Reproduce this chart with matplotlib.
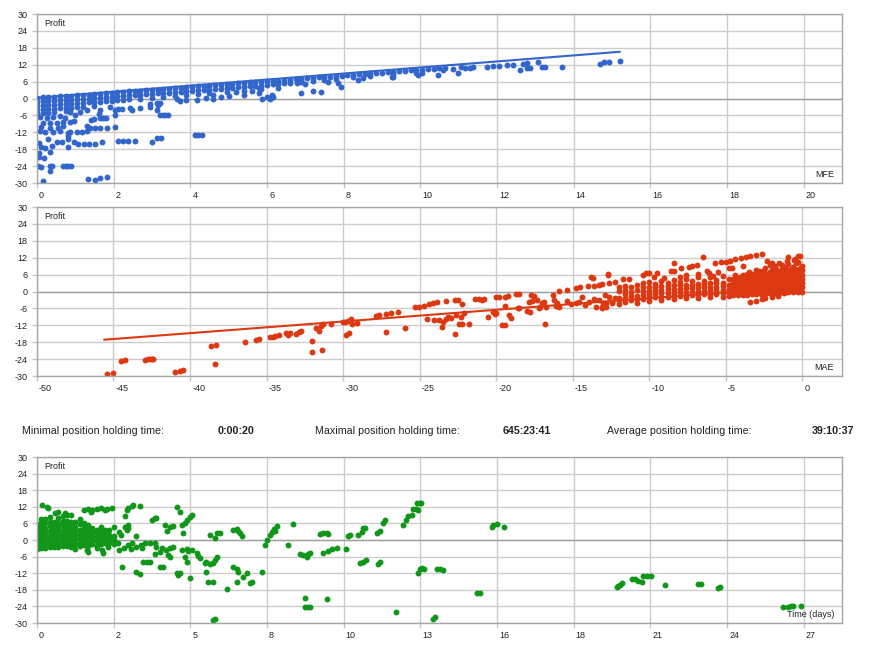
import matplotlib
matplotlib.use('Agg')
import matplotlib.pyplot as plt
import matplotlib.transforms as mtransforms

# ---- MFE panel: profit vs maximal favourable excursion ----
mfe_band_x = [0.0, 0.15, 0.3, 0.45, 0.6, 0.75, 0.9, 1.05, 1.2, 1.35, 1.5, 1.65, 1.8, 1.95,
              2.1, 2.25, 2.4, 2.55, 2.7, 2.85, 3.0, 3.15, 3.3, 3.45, 3.6, 3.75, 3.9, 4.05,
              4.2, 4.35, 4.5, 4.65, 4.8, 4.95, 5.1, 5.25, 5.4, 5.55, 5.7, 5.85, 6.0, 6.15,
              6.3, 6.45, 6.6, 6.75, 6.9, 7.05, 7.2, 7.35, 7.5, 7.65, 7.8, 7.95, 8.1, 8.25,
              8.4, 8.55, 8.7, 8.85, 9.0, 9.15, 9.3, 9.45, 9.6, 9.75, 9.9, 10.05, 10.2, 10.35,
              10.5, 10.65]
mfe_band_y = [
    [0.3, -1.1, -2.5, -3.9, -5.3], [0.4, -1.0, -2.4, -3.8, -5.0], [0.5, -0.9, -2.3, -3.7, -5.2],
    [0.6, -0.8, -2.2, -3.6, -4.8], [0.8, -0.6, -2.0, -3.4], [0.9, -0.5, -1.9, -3.3, -4.5],
    [1.0, -0.4, -1.8, -3.2], [1.2, -0.2, -1.6, -3.0], [1.3, -0.1, -1.5, -2.9],
    [1.4, 0.0, -1.4], [1.6, 0.2, -1.2, -2.6], [1.7, 0.3, -1.1], [1.9, 0.5, -0.9],
    [2.0, 0.6, -0.8], [2.2, 0.8, -0.6], [2.3, 0.9, -0.5], [2.5, 1.1, -0.3], [2.6, 1.2],
    [2.8, 1.4, 0.0], [2.9, 1.5], [3.1, 1.7, 0.3], [3.2, 1.8], [3.4, 2.0, 0.6], [3.5, 2.1],
    [3.7, 2.3, 0.9], [3.8, 2.4], [4.0, 2.6, 1.2], [4.1, 2.7], [4.3, 2.9, 1.5], [4.4, 3.0],
    [4.6, 3.2, 1.8], [4.7, 3.3], [4.9, 3.5], [5.1, 3.7, 2.3], [5.2, 3.8], [5.4, 4.0],
    [5.5, 4.1, 2.8], [5.7, 4.3], [5.8, 4.5], [6.0, 4.6, 3.3], [6.1, 4.8], [6.3, 5.0],
    [6.4, 5.1], [6.6, 5.4], [6.7, 5.5], [6.9], [7.0, 5.9], [7.2], [7.3, 6.2], [7.5],
    [7.6, 6.6], [7.8], [8.0, 6.9], [8.1], [8.3], [8.4, 7.5], [8.6], [8.7], [8.9, 8.0],
    [9.0], [9.2], [9.3], [9.5, 8.6], [9.6], [9.8], [10.0], [10.1, 9.2], [10.3], [10.4],
    [10.6], [10.7], [10.8],
]
mfe_loss_pts = [
    (0.17, -29.2), (1.34, -28.6), (1.51, -28.9), (1.64, -28.1), (1.82, -27.8),
    (0.03, -23.8), (0.1, -24.2), (0.33, -23.8), (0.38, -24.0), (0.35, -25.6), (0.69, -23.9),
    (0.75, -23.9), (0.81, -23.9), (0.88, -23.9), (0.18, -21.1), (0.34, -18.9), (0.05, -19.5),
    (0.05, -20.6), (0.1, -17.3), (0.2, -17.6), (0.39, -16.7), (0.06, -15.7), (0.53, -15.3),
    (0.82, -17.1), (0.97, -15.3), (0.8, -14.3), (0.82, -13.4), (0.29, -14.4), (0.66, -15.3),
    (1.08, -16.1), (1.23, -16.1), (1.37, -16.0), (1.51, -16.0), (1.7, -15.3),
    (2.12, -15.0), (2.25, -15.0), (2.38, -15.0), (2.56, -15.0), (2.99, -15.3), (3.12, -13.9),
    (3.23, -13.9), (4.12, -13.0), (4.21, -12.8), (4.3, -12.8),
    (1.05, -11.8), (1.17, -11.8), (1.31, -11.6), (0.82, -12.4), (0.08, -11.5), (0.2, -11.9),
    (0.43, -12.0), (0.6, -11.4), (0.86, -11.8), (1.38, -10.4), (1.51, -10.4), (1.64, -10.4),
    (1.82, -10.4), (2.03, -10.0), (0.34, -10.6), (0.56, -10.6), (0.1, -10.0), (1.3, -9.6),
    (0.68, -9.6), (0.86, -8.2), (0.97, -8.0), (0.17, -8.7), (0.34, -8.7), (0.51, -8.7),
    (0.69, -8.5), (1.4, -7.6), (1.5, -7.4), (1.64, -7.0), (1.73, -7.0), (1.8, -7.0),
    (0.73, -7.0), (0.08, -6.6), (0.25, -6.8), (0.43, -6.6), (0.6, -6.2), (1.0, -6.0),
    (2.03, -5.9), (3.21, -5.9), (3.3, -5.9), (3.43, -5.9), (1.63, -5.5), (3.34, -5.9),
    (1.3, -4.1), (1.64, -4.1), (2.03, -4.1), (2.21, -3.6), (2.47, -3.9), (2.69, -3.3),
    (2.95, -2.9), (3.17, -2.3), (3.12, -4.1), (2.12, -3.8), (2.43, -3.5), (0.86, -4.7),
    (1.12, -4.7), (1.9, -3.0), (2.95, -2.0), (3.12, -1.5), (3.21, -1.5), (3.73, -1.0),
    (3.9, -0.5), (4.17, -0.5), (4.6, 0.0), (3.64, 0.0), (4.4, 0.2), (5.0, 1.0), (4.6, 1.2),
    (4.8, 0.5), (5.2, 2.2), (5.4, 1.4), (5.6, 2.5),
]
mfe_high_pts = [
    (5.86, 0.0), (6.08, 0.0), (6.17, 0.4), (5.8, 1.8), (6.0, 0.7), (6.12, 1.4), (6.9, 1.8),
    (7.19, 2.8), (7.4, 2.4), (7.92, 4.2), (6.78, 5.4), (5.8, 3.6), (6.3, 3.8), (7.0, 5.2),
    (6.9, 6.4), (7.6, 6.0), (7.85, 5.6), (8.38, 6.6), (8.5, 7.2), (9.25, 7.8), (9.3, 7.5),
    (9.95, 8.3), (10.47, 8.3), (10.05, 9.0), (10.6, 10.3), (10.86, 10.6), (10.97, 9.2),
    (11.05, 11.1), (11.17, 10.9), (11.3, 10.9), (11.38, 11.3), (11.75, 11.3), (11.9, 11.6),
    (12.05, 11.6), (12.25, 11.9), (12.41, 11.9), (12.6, 10.1), (12.67, 12.3), (12.79, 12.5),
    (12.79, 11.0), (12.86, 11.0), (13.08, 12.8), (13.17, 11.3), (13.25, 11.3), (13.69, 11.3),
    (14.69, 12.3), (14.8, 13.1), (14.93, 13.1), (15.21, 13.5),
]
mfe_trend_x = [0.0, 15.2]
mfe_trend_y = [0.3, 16.6]

# ---- MAE panel: profit vs maximal adverse excursion ----
mae_block_x = [-4.5, -4.2, -3.9, -3.6, -3.3, -3.0, -2.7, -2.4, -2.1, -1.8, -1.5, -1.2,
               -0.9, -0.6, -0.3, 0.0]
mae_block_y = [
    [-1.4, 0.1, 1.6, 3.0, 4.4], [-1.3, 0.2, 1.7, 3.2, 4.6], [-1.2, 0.3, 1.8, 3.3, 4.8, 6.0],
    [-1.1, 0.4, 1.9, 3.4, 4.9, 6.3], [-1.0, 0.5, 2.0, 3.5, 5.0, 6.4],
    [-0.9, 0.6, 2.1, 3.6, 5.1, 6.5, 7.8], [-0.9, 0.6, 2.1, 3.6, 5.1, 6.6],
    [-0.8, 0.7, 2.2, 3.7, 5.2, 6.7, 8.3], [-0.7, 0.8, 2.3, 3.8, 5.3, 6.8, 9.5],
    [-0.6, 0.9, 2.4, 3.9, 5.4, 6.9, 8.4], [-0.5, 1.0, 2.5, 4.0, 5.5, 7.0, 10.0],
    [-0.4, 1.1, 2.6, 4.1, 5.6, 7.1, 8.6], [-0.3, 1.2, 2.7, 4.2, 5.7, 7.2, 9.8],
    [-0.2, 1.3, 2.8, 4.3, 5.8, 7.3, 8.8], [-0.1, 1.4, 2.9, 4.4, 5.9, 7.4, 10.5],
    [0.0, 1.5, 3.0, 4.5, 6.0, 7.5, 9.0],
]
mae_fill_x = [-4.35, -4.05, -3.75, -3.45, -3.15, -2.85, -2.55, -2.25, -1.95, -1.65, -1.35,
              -1.05, -0.75, -0.45, -0.15]
mae_fill_y = [
    [-0.6, 0.9, 2.4, 3.8], [-0.5, 1.0, 2.5, 3.9, 5.2], [-0.4, 1.1, 2.6, 4.0, 5.5],
    [-0.3, 1.2, 2.7, 4.1, 5.6, 7.0], [-0.2, 1.2, 2.7, 4.2, 5.7], [-0.2, 1.3, 2.8, 4.3, 5.8, 7.2],
    [-0.1, 1.4, 2.9, 4.4, 5.9, 7.3], [0.0, 1.5, 3.0, 4.5, 6.0], [0.0, 1.5, 3.0, 4.6, 6.1, 7.6],
    [0.1, 1.6, 3.1, 4.7, 6.2, 7.7], [0.2, 1.7, 3.2, 4.7, 6.3, 7.8, 9.2],
    [0.3, 1.8, 3.3, 4.8, 6.4, 7.9], [0.4, 1.9, 3.4, 4.9, 6.5, 8.0],
    [0.5, 2.0, 3.5, 5.0, 6.6, 8.1, 11.6], [0.6, 2.1, 3.6, 5.1, 6.7, 8.2],
]
mae_slope_x = [-12.0, -11.6, -11.2, -10.8, -10.4, -10.0, -9.6, -9.2, -8.8, -8.4, -8.0,
               -7.6, -7.2, -6.8, -6.4, -6.0, -5.6, -5.2, -4.8]
mae_slope_y = [
    [-4.6, -3.0, -2.2, 0.2, 1.5], [-3.8, -2.2, -1.0, 0.6, 2.0], [-3.0, -1.6, -0.2, 1.7],
    [-4.0, -2.8, -1.5, 0.4, 2.3], [-2.5, -1.2, 0.3, 1.6, 2.9], [-3.2, -2.0, -1.0, 0.3, 1.5, 3.4],
    [-2.0, -0.8, 0.5, 1.5, 2.6], [-3.0, -1.8, -0.6, 0.6, 1.8, 3.6], [-1.8, -0.5, 0.8, 2.0, 3.0],
    [-2.6, -1.4, -0.2, 1.0, 2.2, 4.2], [-1.5, -0.2, 1.0, 2.2, 3.4], [-2.4, -1.2, 0.0, 1.2, 2.4, 4.6],
    [-1.2, 0.0, 1.2, 2.4, 3.6], [-2.2, -1.0, 0.3, 1.5, 2.6, 5.0], [-1.0, 0.2, 1.5, 2.7, 3.8],
    [-2.0, -0.8, 0.5, 1.7, 2.9, 5.2], [-0.8, 0.4, 1.7, 2.9, 4.0], [-1.8, -0.6, 0.6, 1.8, 3.0, 5.5],
    [-1.6, -0.4, 0.9, 2.4, 4.3],
]
mae_far_pts = [
    (-45.41, -29.2), (-45.02, -28.8), (-44.54, -24.7), (-44.26, -24.2), (-42.91, -24.3),
    (-42.75, -24.1), (-42.63, -24.0), (-42.5, -23.9), (-42.41, -23.8), (-40.96, -28.5),
    (-40.63, -28.1), (-40.46, -27.8), (-38.6, -19.4), (-38.3, -19.0), (-38.39, -25.7),
    (-36.39, -17.8), (-35.72, -17.2), (-35.5, -16.7), (-34.76, -16.0), (-34.6, -16.0),
    (-34.48, -15.8), (-34.2, -15.4), (-33.76, -14.9), (-33.6, -15.4), (-33.5, -14.9),
    (-33.1, -15.2), (-32.74, -14.0), (-32.9, -14.2), (-32.04, -17.5), (-32.04, -21.5),
    (-31.76, -13.1), (-31.59, -13.9), (-31.43, -12.2), (-31.33, -11.7), (-31.37, -20.7),
    (-30.78, -11.5), (-30.02, -10.9), (-29.85, -10.7), (-29.7, -10.4), (-29.48, -9.9),
    (-29.8, -15.3), (-29.59, -14.9), (-29.41, -11.5), (-29.11, -11.3), (-27.85, -8.7),
    (-27.63, -8.3), (-27.2, -8.0), (-26.87, -7.5), (-26.43, -7.2), (-27.2, -14.3),
    (-25.96, -12.8), (-25.28, -5.4), (-25.07, -5.4), (-24.7, -5.0), (-24.37, -4.6),
    (-24.15, -4.2), (-23.83, -3.8), (-23.28, -3.3), (-24.5, -9.9), (-24.04, -10.1),
    (-23.7, -10.1), (-23.5, -10.7), (-23.3, -9.7), (-22.96, -9.5), (-23.54, -12.5),
    (-23.17, -9.2),
]
mae_mid_pts = [
    (-22.7, -3.0), (-22.5, -3.0), (-22.2, -4.4), (-22.6, -8.3), (-22.3, -8.9), (-22.08, -7.8),
    (-22.4, -11.7), (-22.2, -11.7), (-21.75, -11.4), (-22.67, -15.2), (-21.36, -2.8),
    (-21.1, -2.8), (-20.8, -2.8), (-20.9, -3.0), (-20.56, -8.9), (-20.2, -7.2), (-20.0, -7.7),
    (-20.1, -8.0), (-20.0, -2.1), (-19.84, -1.8), (-19.6, -11.9), (-19.4, -11.9),
    (-19.4, -1.8), (-19.25, -1.5), (-19.15, -8.3), (-19.0, -9.5), (-18.7, -0.9), (-18.5, -0.9),
    (-19.4, -5.1), (-18.6, -6.0), (-18.5, -5.7), (-17.95, -6.8), (-17.8, -7.2), (-17.84, -3.6),
    (-17.67, -3.4), (-17.7, -1.2), (-17.5, -1.6), (-17.36, -3.0), (-17.2, -6.0), (-17.1, -5.6),
    (-16.9, -3.6), (-16.98, -4.2), (-16.76, -5.4), (-16.8, -11.5), (-16.3, -1.2), (-16.2, -3.0),
    (-16.1, -5.1), (-16.0, -4.2), (-15.9, -5.4), (-15.9, 0.3), (-15.35, 0.7), (-15.35, -3.4),
    (-15.1, -4.4), (-14.8, -4.2), (-14.6, -3.6), (-14.4, -2.1), (-14.8, 1.1), (-14.5, 1.5),
    (-14.0, 2.0), (-13.6, 2.1), (-13.3, 2.3), (-13.07, 2.5), (-12.63, 2.9), (-12.2, 3.4),
    (-13.8, 5.0), (-13.7, 4.7), (-13.5, -5.6), (-13.06, -5.6), (-13.6, -2.8), (-13.3, -3.0),
    (-12.7, 6.0), (-12.6, -1.8), (-12.4, -3.6), (-12.2, -2.4), (-14.2, -4.8), (-13.9, -3.8),
    (-13.0, -4.0), (-12.8, -5.4), (-12.9, -1.2), (-13.05, -6.0), (-12.8, -4.2), (-12.4, -4.2),
]
mae_upper_pts = [
    (-12.7, 6.1), (-11.7, 4.3), (-11.3, 4.5), (-10.4, 5.9), (-10.2, 6.7), (-10.0, 6.5),
    (-9.7, 5.0), (-9.5, 6.7), (-8.6, 7.4), (-8.4, 7.4), (-8.4, 10.2), (-7.9, 8.2), (-7.4, 8.8),
    (-7.2, 9.1), (-6.9, 9.4), (-6.5, 12.1), (-6.1, 6.5), (-5.7, 10.2), (-5.3, 10.5),
    (-5.0, 10.6), (-4.7, 11.0), (-4.4, 11.4), (-4.0, 12.0), (-3.7, 12.4), (-3.4, 12.7),
    (-3.05, 13.1), (-2.6, 13.3), (-4.8, 8.2), (-4.6, 8.2), (-3.9, 9.1), (-4.4, 5.9),
    (-2.0, 10.2), (-1.75, 9.1), (-0.9, 12.4), (-0.55, 11.2), (-0.25, 12.6), (-0.12, 12.7),
    (-1.0, 11.0), (-1.3, 9.5), (-2.3, 10.8), (-0.4, 10.0), (-8.0, 5.3), (-7.6, 6.0),
    (-6.8, 6.2), (-6.2, 7.2), (-5.5, 6.8), (-5.8, 5.5), (-9.0, 4.8),
    (-3.4, -3.6), (-3.05, -3.2), (-2.6, -2.8), (-2.4, -2.4), (-2.0, -2.0), (-1.6, -1.6),
]
mae_trend_x = [-45.6, 0.0]
mae_trend_y = [-17.1, 1.8]

# ---- holding time panel: profit vs position holding time (days) ----
hold_block_x = [0.0, 0.15, 0.3, 0.45, 0.6, 0.75, 0.9, 1.05, 1.2, 1.35, 1.5, 1.65, 1.8, 1.95,
                2.1, 2.25, 2.4, 2.55, 2.7]
hold_block_y = [
    [-3.2, -1.7, -0.2, 1.3, 2.8, 4.3, 5.8], [-2.8, -1.3, 0.2, 1.7, 3.2, 4.7, 6.2, 7.7],
    [-3.0, -1.5, 0.0, 1.5, 3.0, 4.5, 6.0, 7.5], [-2.6, -1.1, 0.4, 1.9, 3.4, 4.9, 6.4, 8.2],
    [-2.4, -0.9, 0.6, 2.1, 3.6, 5.1, 6.6], [-2.7, -1.2, 0.3, 1.8, 3.3, 4.8, 6.3, 8.0],
    [-2.2, -0.7, 0.8, 2.3, 3.8, 5.3, 6.8, 8.7], [-2.0, -0.5, 1.0, 2.5, 4.0, 5.5, 7.0, 9.0],
    [-2.5, -1.0, 0.5, 2.0, 3.5, 5.0, 6.5, 9.2], [-3.4, -1.3, 0.2, 1.7, 3.2, 4.7, 6.5],
    [-2.2, -0.7, 0.8, 2.3, 3.8, 5.8, 7.5], [-1.8, -0.3, 1.2, 2.7, 4.2, 6.0, 10.8],
    [-2.0, -0.5, 1.0, 2.5, 4.0, 5.5, 11.2], [-1.5, 0.0, 1.5, 3.0, 4.5, 10.8],
    [-2.0, -0.5, 1.0, 2.5, 3.8, 11.3], [-1.3, 0.2, 1.7, 3.2, 4.8, 11.6],
    [-1.0, 0.5, 2.0, 3.5, 11.0], [-1.2, 0.3, 1.8, 3.6], [-1.5, 0.0, 1.5, 4.8],
]
hold_pts = [
    (0.16, 12.7), (0.34, 12.1), (0.4, 11.5), (0.75, 10.2), (1.0, 9.6), (0.63, 9.8),
    (2.1, -3.0), (2.3, -3.6), (2.5, -2.6), (2.85, -1.0), (2.98, -9.6), (2.34, -4.8),
    (1.75, -3.6), (1.8, -4.2), (1.92, 10.2), (2.45, 11.3), (2.63, 11.5),
    (2.9, 3.0), (2.95, 1.8), (3.1, 4.8), (3.16, 3.6), (3.22, 4.2), (3.22, 5.4), (3.1, 8.7),
    (3.16, 10.8), (3.22, 11.4), (3.33, 12.3), (3.39, 12.7), (3.63, 12.4), (3.5, 1.4),
    (3.5, -11.4), (3.63, -12.4), (2.9, -3.6), (3.05, -3.0), (3.2, -1.8), (3.35, -1.0),
    (3.5, -2.4), (3.65, -1.8), (3.8, -1.2), (3.98, -1.2), (4.15, -1.0), (3.3, -3.4),
    (3.7, -3.0), (3.75, -7.8), (3.86, -7.8), (3.98, -7.8), (4.04, 7.2), (4.15, 7.8),
    (4.2, 8.0), (4.15, -5.1), (4.33, -4.2), (4.2, -2.4), (4.4, -3.0), (4.55, -3.6),
    (4.68, -3.0), (4.8, -2.6), (4.33, -9.6), (4.45, -9.6), (4.51, 5.4), (4.68, 4.8),
    (4.8, 5.1), (4.57, 3.4), (4.6, -5.4), (4.68, -6.0), (4.92, 12.0), (5.04, 10.2),
    (4.92, -12.0), (4.98, -12.6), (5.04, -11.8), (5.1, 5.4), (5.15, 2.4), (5.2, 6.3),
    (5.1, -3.6), (5.27, -3.4), (5.33, -3.9), (5.45, -3.6), (5.2, -6.0), (5.27, -7.8),
    (5.27, 7.2), (5.39, 8.4), (5.45, 9.0), (5.39, -13.9), (5.62, -4.8), (5.68, -5.8),
    (5.74, -6.6), (5.92, -8.4), (5.97, -7.8), (5.97, -11.4), (6.03, -15.1), (6.21, -15.1),
    (6.09, 1.8), (6.27, 0.6), (6.09, -8.6), (6.21, -8.4), (6.27, -7.2), (6.21, -28.9),
    (6.27, -28.7), (6.33, 2.7), (6.44, 2.7), (6.33, -6.0), (6.68, -17.7), (6.91, 3.6),
    (7.03, 3.9), (7.09, 3.4), (7.15, 2.4), (7.21, 1.4), (6.91, -9.6), (7.03, -10.6),
    (7.09, -11.4), (7.03, -15.1), (7.27, -13.5), (7.38, -11.8), (7.5, -15.7), (7.56, -15.1),
    (7.91, -11.4), (8.03, -1.8), (8.09, 0.0), (8.2, 1.8), (8.26, 3.0), (8.33, 3.9),
    (8.45, 5.1), (8.38, 3.4), (8.85, -1.8), (9.03, 5.7), (9.26, -5.1), (9.38, -5.5),
    (9.5, -6.0), (9.55, -5.1), (9.61, -4.8), (9.44, -20.8), (9.44, -24.3), (9.55, -24.3),
    (9.6, -24.3), (9.96, 2.2), (10.08, 2.5), (10.2, 2.7), (10.26, 2.2), (10.08, -4.6),
    (10.26, -3.9), (10.38, -3.4), (10.55, -3.0), (10.2, -21.4), (10.9, -3.4), (10.96, 1.3),
    (11.02, 1.8), (11.31, 1.8), (11.43, 3.0), (11.49, 4.2), (11.55, 4.2), (11.37, -8.2),
    (11.49, -7.8), (11.6, -7.2), (11.96, 2.7), (12.08, 3.4), (12.02, -8.7), (12.08, -7.8),
    (12.2, 6.0), (12.25, 7.2), (12.66, -25.9), (12.9, 5.4), (13.0, 7.2), (13.07, 8.7),
    (13.2, 9.0), (13.25, 11.1), (13.35, 11.1), (13.43, 10.9), (13.37, 13.3), (13.49, 13.3),
    (13.54, 13.5), (13.43, -12.0), (13.49, -10.6), (13.55, -10.2), (13.62, -10.4),
    (13.96, -28.6), (14.01, -28.0), (14.07, -10.6), (14.19, -10.4), (14.31, -11.0),
    (15.48, -19.0), (15.6, -19.0), (16.01, 4.8), (16.07, 5.4), (16.21, 5.8), (16.46, 4.8),
    (20.41, -16.9), (20.47, -16.5), (20.53, -16.3), (20.62, -15.4), (20.94, -14.1),
    (21.05, -14.1), (21.17, -14.8), (21.29, -15.1), (21.33, -12.9), (21.47, -12.9),
    (21.64, -12.9), (22.13, -16.1), (23.29, -15.8), (23.4, -15.8), (23.99, -17.5),
    (24.05, -17.1), (26.28, -24.1), (26.46, -24.1), (26.57, -23.9), (26.63, -23.7),
    (26.89, -23.7),
]
hold_tick_labels = ['0', '2', '5', '8', '10', '13', '16', '18', '21', '24', '27']
hold_grid_step = 2.7

profit_ticks = [-30, -24, -18, -12, -6, 0, 6, 12, 18, 24, 30]

summary_labels = ['Minimal position holding time:', 'Maximal position holding time:',
                  'Average position holding time:']
summary_values = ['0:00:20', '645:23:41', '39:10:37']

BLUE = '#3366cc'
RED = '#dc3912'
GREEN = '#109618'
FONT = 'Liberation Sans'


def _flatten(col_x, col_y):
    xs, ys = [], []
    for x, col in zip(col_x, col_y):
        xs += [x] * len(col)
        ys += list(col)
    return xs, ys


def _unzip(pts):
    return [p[0] for p in pts], [p[1] for p in pts]


def _style_axes(ax, fig, xlim, xticks, xlabels, corner_label):
    ax.set_ylim(-30, 30)
    ax.set_xlim(*xlim)
    ax.set_yticks(profit_ticks)
    ax.set_yticklabels([str(v) for v in profit_ticks])
    ax.set_xticks(xticks)
    ax.set_xticklabels(xlabels)
    ax.grid(True, color='#cccccc', linewidth=1)
    ax.set_axisbelow(True)
    ax.axhline(0, color='#a0a0a0', linewidth=1, zorder=1)
    for sp in ax.spines.values():
        sp.set_color('#a6a6a6')
        sp.set_linewidth(1)
    ax.tick_params(length=3.5, width=1, color='#c4c4c4', labelsize=6.5, labelcolor='#222222')
    ax.tick_params(axis='y', pad=3.5)
    ax.tick_params(axis='x', pad=2)
    # x labels sit just right of their grid line
    offset = mtransforms.ScaledTranslation(1.5 / 72, 0, fig.dpi_scale_trans)
    for lbl in ax.get_xticklabels():
        lbl.set_horizontalalignment('left')
        lbl.set_transform(lbl.get_transform() + offset)
    for lbl in ax.get_xticklabels() + ax.get_yticklabels():
        lbl.set_fontfamily(FONT)
    ax.annotate('Profit', xy=(0, 1), xycoords='axes fraction', xytext=(7, -9),
                textcoords='offset pixels', ha='left', va='center', fontsize=6.5,
                family=FONT, color='#222222')
    ax.annotate(corner_label, xy=(1, 0), xycoords='axes fraction', xytext=(-8, 9),
                textcoords='offset pixels', ha='right', va='center', fontsize=6.5,
                family=FONT, color='#222222')


fig = plt.figure(figsize=(8.91, 6.56), dpi=100)
fig.patch.set_facecolor('white')

ax_mfe = fig.add_axes([0.0415, 0.7210, 0.9035, 0.2576])
ax_mae = fig.add_axes([0.0415, 0.4268, 0.9035, 0.2576])
ax_hold = fig.add_axes([0.0415, 0.0503, 0.9035, 0.2530])

dot = dict(s=18, linewidths=0, zorder=2)

# MFE
bx, by = _flatten(mfe_band_x, mfe_band_y)
lx, ly = _unzip(mfe_loss_pts)
hx, hy = _unzip(mfe_high_pts)
ax_mfe.scatter(bx + lx + hx, by + ly + hy, color=BLUE, **dot)
ax_mfe.plot(mfe_trend_x, mfe_trend_y, color=BLUE, linewidth=1.5, zorder=3)
_style_axes(ax_mfe, fig, (0, 21), list(range(0, 21, 2)),
            [str(v) for v in range(0, 21, 2)], 'MFE')

# MAE
kx, ky = _flatten(mae_block_x, mae_block_y)
gx, gy = _flatten(mae_fill_x, mae_fill_y)
sx, sy = _flatten(mae_slope_x, mae_slope_y)
fx, fy = _unzip(mae_far_pts)
mx, my = _unzip(mae_mid_pts)
ux, uy = _unzip(mae_upper_pts)
ax_mae.scatter(kx + gx + sx + fx + mx + ux, ky + gy + sy + fy + my + uy, color=RED, **dot)
ax_mae.plot(mae_trend_x, mae_trend_y, color=RED, linewidth=1.5, zorder=3)
_style_axes(ax_mae, fig, (-50, 2.6), list(range(-50, 1, 5)),
            [str(v) for v in range(-50, 1, 5)], 'MAE')

# holding time
tx, ty = _flatten(hold_block_x, hold_block_y)
px, py = _unzip(hold_pts)
ax_hold.scatter(tx + px, ty + py, color=GREEN, **dot)
_style_axes(ax_hold, fig, (0, 28.35),
            [i * hold_grid_step for i in range(len(hold_tick_labels))],
            hold_tick_labels, 'Time (days)')

# summary line between the 2nd and 3rd panel
label_x = [0.0247, 0.3535, 0.6813]
value_x = [0.2447, 0.5645, 0.9113]
for lab, val, lx_, vx_ in zip(summary_labels, summary_values, label_x, value_x):
    fig.text(lx_, 0.3384, lab, fontsize=7.7, family=FONT, color='#222222', va='baseline')
    fig.text(vx_, 0.3384, val, fontsize=7.7, family=FONT, color='#222222',
             fontweight='bold', va='baseline')

fig.savefig('out.png', dpi=100)
